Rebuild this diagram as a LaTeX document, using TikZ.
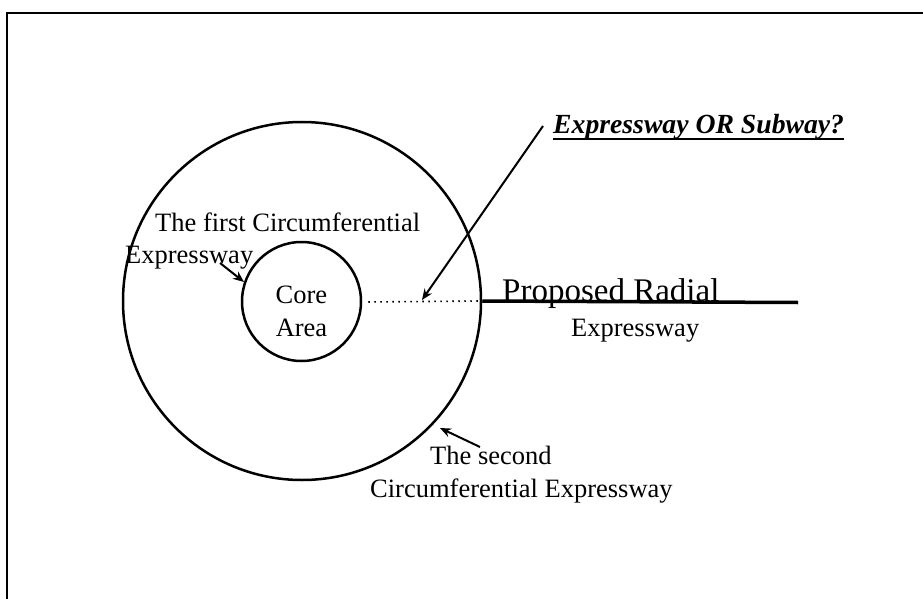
\documentclass[tikz,border=0pt]{standalone}
\usepackage{fontspec}
\setmainfont{Liberation Serif}
\usetikzlibrary{arrows.meta}
\begin{document}
\begin{tikzpicture}[x=1pt,y=-1pt,
  ring/.style={draw,line width=2.5pt},
  lbl/.style={inner sep=0pt,anchor=base west,font=\fontsize{26.5}{30}\selectfont},
  ptr/.style={draw,line width=2pt,-{Stealth[length=11pt,width=9pt]}}]
\useasboundingbox (0,0) rectangle (923,599);
% frame (top and left only)
\coordinate (ftl) at (7,13);
\coordinate (ftr) at (923,13);
\coordinate (fbl) at (7,599);
\draw[line width=2.8pt] (fbl) -- (ftl) -- (ftr);
% circles
\node[ring,circle,minimum size=358pt,inner sep=0pt] (outer) at (302,301) {};
\node[ring,circle,minimum size=119pt,inner sep=0pt] (inner) at (301.5,301.5) {};
\node[lbl,anchor=base] (core) at (301.5,303) {Core};
\node[lbl,anchor=base] (area) at (301.5,336) {Area};
% radial
\coordinate (radend) at (798,302.5);
\draw[line width=1.6pt,dash pattern=on 1.6pt off 4.4pt] (inner.east) ++(6,0.5) coordinate (dotstart) -- (outer.east);
\draw[line width=3.5pt] (outer.east) -- (radend);
\node[lbl,font=\fontsize{33}{36}\selectfont] (prop) at (502,301) {Proposed Radial};
\node[lbl] (propb) at (571,336) {Expressway};
% question
\node[lbl,font=\bfseries\itshape\fontsize{27.7}{32}\selectfont] (q) at (553,134) {Expressway OR Subway?};
\draw[line width=2pt] ([yshift=-5pt]q.base west) -- ([yshift=-5pt]q.base east);
\coordinate (qstart) at (543,126);
\coordinate (qtip) at (422,300);
\draw[ptr] (qstart) -- (qtip);
% first circumferential
\node[lbl] (first) at (155,231) {The first Circumferential};
\node[lbl] (firstb) at (125,263) {Expressway};
\coordinate (fa) at (220,263);
\coordinate (fb) at (244,282);
\draw[ptr] (fa) -- (fb);
% second circumferential
\node[lbl] (second) at (430,464) {The second};
\node[lbl] (secondb) at (370,497) {Circumferential Expressway};
\coordinate (sa) at (480,447);
\coordinate (sb) at (440,428);
\draw[ptr] (sa) -- (sb);
\end{tikzpicture}
\end{document}
